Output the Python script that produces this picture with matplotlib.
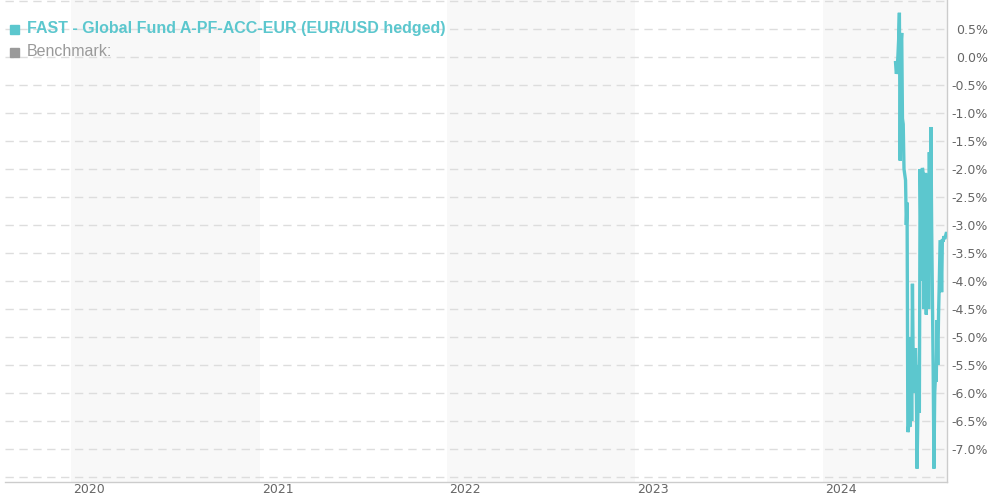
import matplotlib
matplotlib.use("Agg")
import matplotlib.pyplot as plt
import matplotlib.dates as mdates
import matplotlib.transforms as mtransforms
from matplotlib.patches import Rectangle
from matplotlib.ticker import FixedLocator, FuncFormatter
import pandas as pd

# ---- data ----
fund_name = "FAST - Global Fund A-PF-ACC-EUR (EUR/USD hedged)"
benchmark_name = "Benchmark:"
start_date = "2024-05-21"
end_date = "2024-08-29"
fund_values = [
    -0.1, -0.3, -0.25, 0.0, 0.3,
    0.79, -1.85,
    0.2, 0.43, -1.1,
    -1.2, -2.0, -2.1,
    -2.2, -3.0, -2.6, -6.7, -6.6,
    -6.3, -6.6, -5.0, -6.5,
    -4.05, -5.5, -6.0, -5.3,
    -5.2, -5.8, -7.35, -6.4, -5.5,
    -6.35, -2.0, -3.2, -4.0, -1.98,
    -2.1, -4.5, -3.0, -2.07, -4.6,
    -3.4, -2.1, -4.5, -1.7, -3.5,
    -1.25, -3.0, -4.3, -5.6, -7.35, -6.0,
    -5.7, -5.8, -4.7, -5.5, -4.6, -4.0, -3.3,
    -3.3, -4.2, -3.25, -3.3, -3.2, -3.25, -3.2, -3.15, -3.15,
]
band_years = [2020, 2022, 2024]
year_ticks = [2020, 2021, 2022, 2023, 2024]
y_tick_values = [0.5, 0.0, -0.5, -1.0, -1.5, -2.0, -2.5, -3.0, -3.5,
                 -4.0, -4.5, -5.0, -5.5, -6.0, -6.5, -7.0]
grid_values = [1.0, 0.5, 0.0, -0.5, -1.0, -1.5, -2.0, -2.5, -3.0, -3.5,
               -4.0, -4.5, -5.0, -5.5, -6.0, -6.5, -7.0, -7.5]

fund_dates = pd.date_range(start=start_date, end=end_date, periods=len(fund_values))

# ---- style ----
FUND_COLOR = "#5CC7CE"
BENCH_COLOR = "#9a9a9a"
TICK_COLOR = "#666666"

W, H = 990, 500
fig = plt.figure(figsize=(W / 100, H / 100), dpi=100)
ax = fig.add_axes([5 / W, 18 / H, (947 - 5) / W, (H - 18) / H])

ax.set_xlim(pd.Timestamp("2019-08-25"), pd.Timestamp("2024-08-29"))
ax.set_ylim(-7.59, 1.018)

for yr in band_years:
    ax.axvspan(pd.Timestamp(f"{yr}-01-01"), pd.Timestamp(f"{yr + 1}-01-01"),
               color="#f8f8f8", zorder=0, lw=0)

for gv in grid_values:
    ax.axhline(gv, color="#dddddd", lw=1, ls=(0, (6, 4)), zorder=1)

ax.plot(fund_dates, fund_values, color=FUND_COLOR, lw=2.4, zorder=3,
        solid_joinstyle="miter")

# axes styling
for s in ["top", "left"]:
    ax.spines[s].set_visible(False)
ax.spines["right"].set_color("#cccccc")
ax.spines["bottom"].set_color("#cccccc")
ax.spines["right"].set_linewidth(1)
ax.spines["bottom"].set_linewidth(1)

ax.yaxis.tick_right()
ax.yaxis.set_major_locator(FixedLocator(y_tick_values))
ax.yaxis.set_major_formatter(FuncFormatter(lambda v, p: f"{v:.1f}%"))
ax.tick_params(axis="y", length=0, pad=29.5, labelsize=9, labelcolor=TICK_COLOR)
for lab in ax.get_yticklabels():
    lab.set_horizontalalignment("right")

ax.xaxis.set_major_locator(FixedLocator([mdates.date2num(pd.Timestamp(f"{y}-01-01")) for y in year_ticks]))
ax.xaxis.set_major_formatter(FuncFormatter(lambda v, p: mdates.num2date(v).strftime("%Y")))
ax.tick_params(axis="x", length=0, pad=0.5, labelsize=9, labelcolor=TICK_COLOR)
offset = mtransforms.ScaledTranslation(2 / 100, 0, fig.dpi_scale_trans)
for lab in ax.get_xticklabels():
    lab.set_horizontalalignment("left")
    lab.set_transform(lab.get_transform() + offset)

# ---- legend (manual) ----
def px(x, y):
    return x / W, 1 - y / H

fig.add_artist(Rectangle(px(10, 34), 9 / W, 9 / H, transform=fig.transFigure,
                         color=FUND_COLOR, zorder=5))
fig.text(*px(27, 29), fund_name, color=FUND_COLOR, fontsize=11.5,
         fontweight="bold", family="Liberation Sans", va="center", ha="left")
fig.add_artist(Rectangle(px(10, 57), 9 / W, 9 / H, transform=fig.transFigure,
                         color=BENCH_COLOR, zorder=5))
fig.text(*px(27, 52), benchmark_name, color=BENCH_COLOR, fontsize=11.5,
         family="Liberation Sans", va="center", ha="left")

fig.savefig("out.png", dpi=100)
